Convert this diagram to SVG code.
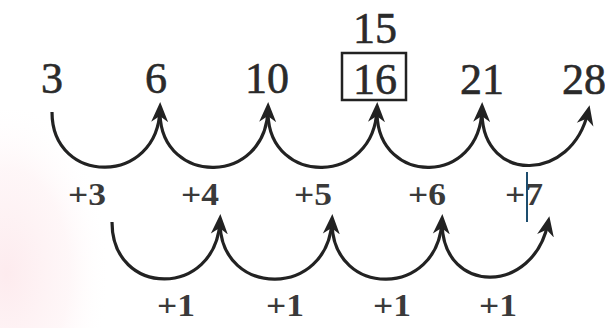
<svg xmlns="http://www.w3.org/2000/svg" width="605" height="328" viewBox="0 0 605 328">
<defs>
<radialGradient id="pink" cx="0.05" cy="0.75" r="0.8">
<stop offset="0" stop-color="#fdebee" stop-opacity="1"/>
<stop offset="0.6" stop-color="#fef1f3" stop-opacity="0.6"/>
<stop offset="1" stop-color="#ffffff" stop-opacity="0"/>
</radialGradient>
<marker id="ah" markerUnits="userSpaceOnUse" markerWidth="21" markerHeight="19" viewBox="0 0 21 19" refX="13" refY="9.5" orient="auto">
<path d="M0,1 L20,9.5 L0,18 L6,9.5 z" fill="#222"/>
</marker>
<style>
.num{font-family:"Liberation Serif","DejaVu Serif",serif;font-size:44px;fill:#2a2a2a;stroke:#2a2a2a;stroke-width:0.6;text-anchor:middle}
.lab{font-family:"Liberation Serif","DejaVu Serif",serif;font-size:31px;font-weight:bold;fill:#3a3a3a;text-anchor:middle}
.arc{fill:none;stroke:#222;stroke-width:3.2;marker-end:url(#ah)}
</style>
</defs>
<rect x="0" y="0" width="605" height="328" fill="#ffffff"/>
<rect x="0" y="110" width="130" height="218" fill="url(#pink)"/>
<g id="n3"><text class="num" x="52" y="93">3</text></g>
<g id="n6"><text class="num" x="156" y="93">6</text></g>
<g id="n10"><text class="num" x="267" y="93">10</text></g>
<g id="n15"><text class="num" x="375" y="43">15</text></g>
<g id="n16"><rect x="342" y="53" width="64" height="47" fill="none" stroke="#222" stroke-width="2.5"/><text class="num" x="375" y="94">16</text></g>
<g id="n21"><text class="num" x="482" y="94">21</text></g>
<g id="n28"><text class="num" x="584" y="94">28</text></g>
<g id="labels">
<text class="lab" x="87" y="205" textLength="38" lengthAdjust="spacingAndGlyphs">+3</text>
<text class="lab" x="200" y="205" textLength="38" lengthAdjust="spacingAndGlyphs">+4</text>
<text class="lab" x="313" y="205" textLength="38" lengthAdjust="spacingAndGlyphs">+5</text>
<text class="lab" x="427" y="205" textLength="38" lengthAdjust="spacingAndGlyphs">+6</text>
<text class="lab" x="524" y="205" textLength="38" lengthAdjust="spacingAndGlyphs">+7</text>
<text class="lab" x="176" y="316" textLength="38" lengthAdjust="spacingAndGlyphs">+1</text>
<text class="lab" x="285" y="316" textLength="38" lengthAdjust="spacingAndGlyphs">+1</text>
<text class="lab" x="392" y="316" textLength="38" lengthAdjust="spacingAndGlyphs">+1</text>
<text class="lab" x="498" y="316" textLength="38" lengthAdjust="spacingAndGlyphs">+1</text>
</g>
<g id="connectors">
<path class="arc" d="M52,112 C52,186 158,186 160,109"/>
<path class="arc" d="M160,114 C162,186 266,186 268,109"/>
<path class="arc" d="M268,114 C270,186 374,186 377,109"/>
<path class="arc" d="M377,114 C379,186 480,186 482,109"/>
<path class="arc" d="M482,114 C484,184 572,182 588,112"/>
<path class="arc" d="M112,222 C112,298 216,298 220,221"/>
<path class="arc" d="M220,224 C222,298 328,298 332,221"/>
<path class="arc" d="M332,224 C334,298 438,298 442,221"/>
<path class="arc" d="M442,224 C444,296 534,294 548,223"/>
</g>
<line x1="527" y1="172" x2="527" y2="222" stroke="#1d4d6e" stroke-width="2"/>
</svg>
